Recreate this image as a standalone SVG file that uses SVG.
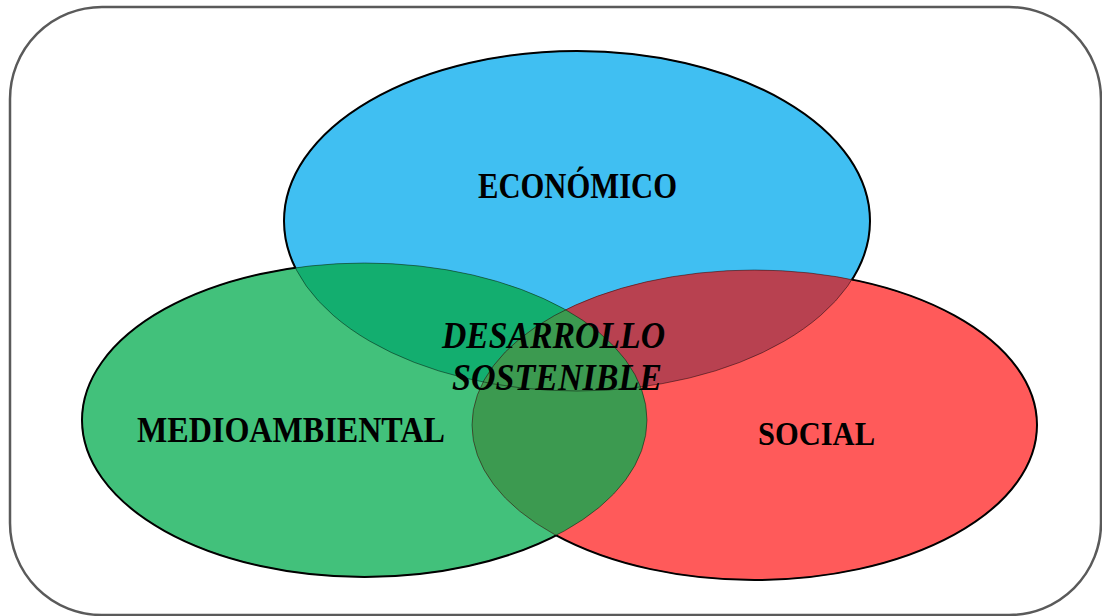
<svg xmlns="http://www.w3.org/2000/svg" width="1102" height="616" viewBox="0 0 1102 616">
  <style>
    .lbl { font-family: "Liberation Serif", "DejaVu Serif", serif; font-weight: bold; fill: #000; }
    .it { font-style: italic; }
    .inner { fill: none; stroke: #000; stroke-opacity: 0.45; stroke-width: 1; }
    .outer { fill: none; stroke: #000; stroke-width: 2; }
  </style>
  <defs>
    <ellipse id="eB" cx="577" cy="221" rx="293" ry="170"/>
    <ellipse id="eG" cx="364.5" cy="420" rx="282.5" ry="157"/>
    <ellipse id="eR" cx="754.5" cy="425" rx="282.5" ry="155"/>
    <clipPath id="cB"><use href="#eB"/></clipPath>
    <clipPath id="cG"><use href="#eG"/></clipPath>
    <clipPath id="cR"><use href="#eR"/></clipPath>
    <mask id="notGR" maskUnits="userSpaceOnUse" x="0" y="0" width="1102" height="616">
      <rect width="1102" height="616" fill="#fff"/>
      <use href="#eG" fill="#000"/>
      <use href="#eR" fill="#000"/>
    </mask>
    <mask id="notBR" maskUnits="userSpaceOnUse" x="0" y="0" width="1102" height="616">
      <rect width="1102" height="616" fill="#fff"/>
      <use href="#eB" fill="#000"/>
      <use href="#eR" fill="#000"/>
    </mask>
    <mask id="notBG" maskUnits="userSpaceOnUse" x="0" y="0" width="1102" height="616">
      <rect width="1102" height="616" fill="#fff"/>
      <use href="#eB" fill="#000"/>
      <use href="#eG" fill="#000"/>
    </mask>
  </defs>

  <rect id="frame" x="10" y="7" width="1091" height="608" rx="92" ry="92" fill="#fff" stroke="#5a5a5a" stroke-width="2.5"/>

  <g id="economico">
    <use href="#eB" fill="#40BFF2"/>
  </g>
  <g id="medioambiental">
    <use href="#eG" fill="#42C17B"/>
  </g>
  <g id="social">
    <use href="#eR" fill="#FF5A5A"/>
  </g>

  <g id="overlaps">
    <g clip-path="url(#cB)"><use href="#eG" fill="#13AE6F"/></g>
    <g clip-path="url(#cB)"><use href="#eR" fill="#B84150"/></g>
    <g clip-path="url(#cG)"><use href="#eR" fill="#3C9A50"/></g>
  </g>

  <g id="outlines">
    <use href="#eB" class="inner"/>
    <use href="#eG" class="inner"/>
    <use href="#eR" class="inner"/>
    <use href="#eB" class="outer" mask="url(#notGR)"/>
    <use href="#eG" class="outer" mask="url(#notBR)"/>
    <use href="#eR" class="outer" mask="url(#notBG)"/>
  </g>

  <g id="labels">
    <text class="lbl" x="478" y="198" font-size="35" textLength="199" lengthAdjust="spacingAndGlyphs">ECONÓMICO</text>
    <text class="lbl" x="137" y="442" font-size="35" textLength="308" lengthAdjust="spacingAndGlyphs">MEDIOAMBIENTAL</text>
    <text class="lbl" x="758" y="445" font-size="34" textLength="117" lengthAdjust="spacingAndGlyphs">SOCIAL</text>
    <text class="lbl it" x="442" y="348" font-size="37" textLength="223" lengthAdjust="spacingAndGlyphs">DESARROLLO</text>
    <text class="lbl it" x="452" y="390" font-size="37" textLength="210" lengthAdjust="spacingAndGlyphs">SOSTENIBLE</text>
  </g>
</svg>
